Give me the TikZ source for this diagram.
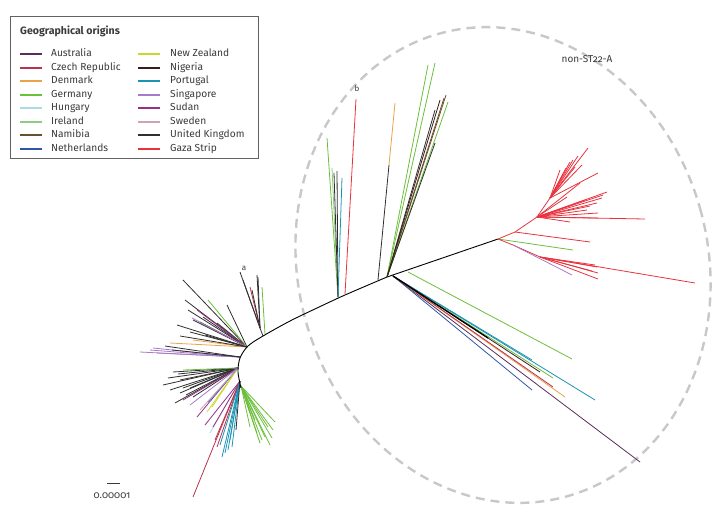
\documentclass[tikz,border=0pt]{standalone}
\usepackage{fontspec}
\setmainfont{Fira Sans}[Numbers=OldStyle]
\definecolor{australia}{HTML}{5E2B5C}
\definecolor{czech}{HTML}{B8334F}
\definecolor{denmark}{HTML}{E9A349}
\definecolor{germany}{HTML}{6CBF3C}
\definecolor{hungary}{HTML}{A8DCE6}
\definecolor{ireland}{HTML}{8FCB82}
\definecolor{namibia}{HTML}{6B4E2B}
\definecolor{netherlands}{HTML}{2F57A5}
\definecolor{newzealand}{HTML}{C9D72E}
\definecolor{nigeria}{HTML}{3A1C1C}
\definecolor{portugal}{HTML}{1B93B4}
\definecolor{singapore}{HTML}{A77BC8}
\definecolor{sudan}{HTML}{9A2F88}
\definecolor{sweden}{HTML}{CFA2B9}
\definecolor{uk}{HTML}{303030}
\definecolor{gazastrip}{HTML}{E8333F}
\definecolor{textgray}{HTML}{3A3A3A}
\definecolor{ovalgray}{HTML}{C8C8C8}
\usetikzlibrary{calc}

\begin{document}
\begin{tikzpicture}[
    x=1pt, y=-1pt,
    every node/.style={text=textgray},
    br/.style={line width=0.8pt},
    stem/.style={line width=0.9pt, black},
    legline/.style={line width=2pt},
    legtext/.style={anchor=west, inner sep=0pt, font=\fontsize{10.2}{12}\selectfont,
        text height=7.3pt, text depth=2pt},
    oval/.style={ovalgray, line width=2.4pt, dash pattern=on 9pt off 6pt}
]
\useasboundingbox (0,0) rectangle (725,514);

% legend
\draw[textgray!80, line width=0.9pt] (10,16) rectangle (258,158);
\node[anchor=west, inner sep=0pt, font=\fontsize{10.6}{12}\selectfont\bfseries] (legtitle) at (20,31) {Geographical origins};
\foreach \name/\col [count=\i from 0] in {Australia/australia, Czech Republic/czech,
    Denmark/denmark, Germany/germany, Hungary/hungary, Ireland/ireland,
    Namibia/namibia, Netherlands/netherlands} {
  \draw[legline, \col] (20,54+13.55*\i) -- (42,54+13.55*\i);
  \node[legtext] (lega\i) at (51,54+13.55*\i) {\name};
}
\foreach \name/\col [count=\i from 0] in {New Zealand/newzealand, Nigeria/nigeria,
    Portugal/portugal, Singapore/singapore, Sudan/sudan, Sweden/sweden,
    United Kingdom/uk, Gaza Strip/gazastrip} {
  \draw[legline, \col] (138,54+13.55*\i) -- (160,54+13.55*\i);
  \node[legtext] (legb\i) at (170,54+13.55*\i) {\name};
}

% dashed outline of the non-ST22-A part
\coordinate (ovalc) at (503,265);
\draw[oval] (ovalc) ellipse [x radius=205pt, y radius=240pt, rotate=15];
\node[font=\fontsize{10}{12}\selectfont] (nonst) at (587,59) {non-ST22-A};

% junctions on the backbone
\coordinate (hubA) at (247,347);
\coordinate (hubB) at (240,357);
\coordinate (hubC) at (238,368);
\coordinate (hubD) at (240,381);
\coordinate (agrp) at (260,328);
\coordinate (tealgrp) at (338,297);
\coordinate (bgrp) at (345,294);
\coordinate (orggrp) at (378,280);
\coordinate (fangrp) at (387,277);
\coordinate (lowgrp) at (393,276);
\coordinate (gaza) at (498,239);

% left cluster, upper side
\foreach \ex/\ey/\c in {183/280/uk, 188/310/uk, 177/325/uk, 193/320/uk, 203/317/uk,
    227/305/uk, 217/323/uk, 200/322/uk, 190/332/uk, 185/300/uk, 197/310/sudan,
    192/318/singapore, 208/300/germany, 170/343/denmark, 193/340/denmark,
    180/336/uk, 205/335/uk}
  \draw[br, \c] (hubA) -- (\ex,\ey);
\foreach \ex/\ey/\c in {140/352/singapore, 150/350/singapore, 157/353/singapore,
    153/348/singapore, 165/346/uk, 172/350/uk}
  \draw[br, \c] (hubB) -- (\ex,\ey);

% group a
\foreach \ex/\ey/\c in {240/272/uk, 243/280/uk, 250/287/czech, 252/290/uk,
    257/275/uk, 258/277/uk}
  \draw[br, \c] (agrp) -- (\ex,\ey);
\draw[br, germany] (265,334) -- (262,287);
\draw[br, uk] (agrp) -- (263,336);
\node[font=\fontsize{8}{9}\selectfont, inner sep=1pt] (labela) at (244,268) {a};

% left cluster, lower side
\foreach \ex/\ey/\c in {163/385/uk, 170/390/uk, 175/403/uk, 180/393/uk, 173/372/uk,
    180/380/uk, 183/388/uk, 193/397/uk, 168/378/uk, 186/395/uk, 190/388/uk,
    178/374/uk, 183/370/germany, 197/417/sudan, 183/400/sudan, 212/407/newzealand,
    207/412/newzealand, 208/402/portugal, 200/410/sweden, 190/405/singapore}
  \draw[br, \c] (hubC) -- (\ex,\ey);
\foreach \ex/\ey/\c in {210/433/hungary, 213/427/sudan, 205/425/sudan,
    193/497/czech, 217/447/czech, 215/440/czech, 222/457/portugal,
    225/453/portugal, 228/450/portugal, 232/447/portugal, 230/440/portugal,
    220/445/portugal, 236/430/uk}
  \draw[br, \c] (hubD) -- (\ex,\ey);
\foreach \ex/\ey in {260/443, 265/437, 270/445, 273/430, 275/422, 268/427,
    257/433, 250/427, 250/413, 262/440, 272/438, 255/420}
  \draw[br, germany] (241,386) -- (\ex,\ey);

% backbone
\draw[stem] plot[smooth] coordinates {(241,388) (238,372) (240,358) (248,346)
    (263,336) (290,321) (317,308) (345,295) (387,277)} -- (gaza);

% upper groups inside the outline
\foreach \ex/\ey/\c in {327/138/germany, 332/168/ireland, 334/173/uk,
    337/171/uk, 342/178/portugal}
  \draw[br, \c] (tealgrp) -- (\ex,\ey);
\draw[br, gazastrip] (bgrp) -- (356,99);
\node[font=\fontsize{8}{9}\selectfont, inner sep=1pt] (labelb) at (357,89) {b};
\coordinate (orgtip) at (389,165);
\draw[br, uk] (orggrp) -- (orgtip);
\draw[br, denmark] (orgtip) -- (395,103);
\foreach \ex/\ey/\c in {428/65/germany, 435/63/germany, 435/110/uk,
    446/95/namibia, 448/102/germany, 444/98/namibia, 435/143/uk, 440/100/nigeria}
  \draw[br, \c] (fangrp) -- (\ex,\ey);

% Gaza Strip cluster
\coordinate (gz1) at (515,232);
\coordinate (gz2) at (537,217);
\coordinate (gz3) at (550,198);
\coordinate (gz4) at (513,245);
\coordinate (gz5) at (540,257);
\draw[br, gazastrip] (gaza) -- (gz1) -- (gz2) -- (gz3);
\foreach \ex/\ey in {588/148, 570/162, 573/160, 575/167, 566/168, 578/156,
    598/173, 560/170, 582/165}
  \draw[br, gazastrip] (gz3) -- (\ex,\ey);
\foreach \ex/\ey in {607/192, 603/195, 602/198, 597/203, 598/213, 645/219,
    597/218, 570/222, 587/210, 580/183, 567/197, 590/206, 585/200}
  \draw[br, gazastrip] (gz2) -- (\ex,\ey);
\draw[br, gazastrip] (gz1) -- (590,242);
\draw[br, germany] (gaza) -- (573,250);
\draw[br, gazastrip] (gaza) -- (gz4) -- (gz5);
\draw[br, singapore] (gz4) -- (572,275);
\foreach \ex/\ey in {598/279, 598/273, 597/267, 595/265, 695/283, 592/271}
  \draw[br, gazastrip] (gz5) -- (\ex,\ey);

% lower right group
\foreach \ex/\ey/\c in {532/390/netherlands, 640/462/australia, 595/400/portugal,
    565/397/denmark, 553/387/czech, 553/378/germany, 532/360/portugal,
    540/372/nigeria}
  \draw[br, \c] (lowgrp) -- (\ex,\ey);
\draw[br, germany] (408,272) -- (572,359);
\draw[stem, line width=1.3pt] (lowgrp) -- (488,338);

% scale bar
\draw[textgray, line width=0.9pt] (107,483) -- (120,483);
\node[font=\fontsize{10}{11}\selectfont] (scale) at (112,496) {0.00001};
\end{tikzpicture}
\end{document}
